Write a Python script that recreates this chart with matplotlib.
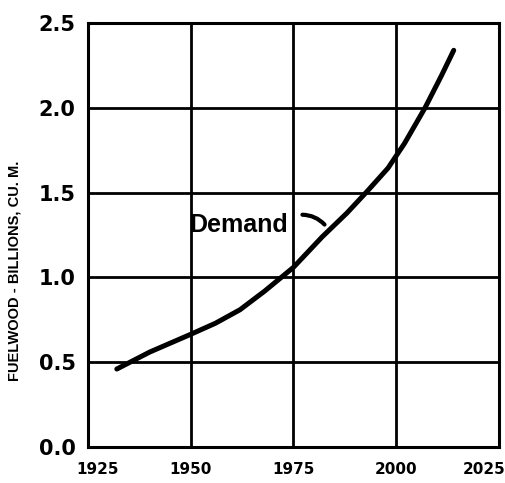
import matplotlib
matplotlib.use("Agg")
import matplotlib.pyplot as plt
from matplotlib.transforms import ScaledTranslation

# Projected fuelwood demand, billions of cubic metres
years = [1932, 1940, 1950, 1956, 1962, 1968, 1972, 1975, 1982, 1988,
         1993, 1998, 2002, 2007, 2011, 2014]
demand = [0.46, 0.56, 0.665, 0.73, 0.81, 0.92, 1.0, 1.06, 1.24, 1.38,
          1.51, 1.645, 1.79, 2.0, 2.19, 2.34]

x_ticks = [1925, 1950, 1975, 2000, 2025]
x_tick_labels = ["1925", "1950", "1975", "2000", "2025"]
y_ticks = [0.0, 0.5, 1.0, 1.5, 2.0, 2.5]
y_tick_labels = ["0.0", "0.5", "1.0", "1.5", "2.0", "2.5"]

plt.rcParams["font.family"] = ["Liberation Sans", "DejaVu Sans"]

fig = plt.figure(figsize=(5.06, 4.83), dpi=100)
ax = fig.add_axes([0.174, 0.0745, 0.812, 0.8775])

ax.plot(years, demand, color="black", lw=3.6, solid_capstyle="round",
        solid_joinstyle="round", zorder=3)

ax.set_xlim(1925, 2025)
ax.set_ylim(0, 2.5)
ax.set_xticks(x_ticks)
ax.set_xticklabels(x_tick_labels, fontsize=11, fontweight="bold",
                   family="DejaVu Sans")
ax.set_yticks(y_ticks)
ax.set_yticklabels(y_tick_labels, fontsize=15, fontweight="bold",
                   family="DejaVu Sans")
ax.tick_params(axis="x", length=0, pad=11)
ax.tick_params(axis="y", length=0, pad=9)

# nudge the end year labels inward so they stay inside the figure
xl = ax.get_xticklabels()
xl[0].set_transform(xl[0].get_transform() + ScaledTranslation(0.10, 0, fig.dpi_scale_trans))
xl[-1].set_transform(xl[-1].get_transform() + ScaledTranslation(-0.15, 0, fig.dpi_scale_trans))

ax.grid(True, color="black", lw=2.0)
for s in ax.spines.values():
    s.set_linewidth(2.2)

ax.text(1949.6, 1.31, "Demand", fontsize=18, fontweight="bold",
        ha="left", va="center")
ax.annotate("", xy=(1983.0, 1.30), xytext=(1976.5, 1.37),
            arrowprops=dict(arrowstyle="-", lw=3, color="black",
                            connectionstyle="arc3,rad=-0.25"))

fig.text(15 / 506, 1 - 271 / 483, "FUELWOOD - BILLIONS, CU. M.",
         rotation=90, ha="center", va="center", fontsize=10.5, fontweight="bold")

fig.savefig("out.png", dpi=100)
